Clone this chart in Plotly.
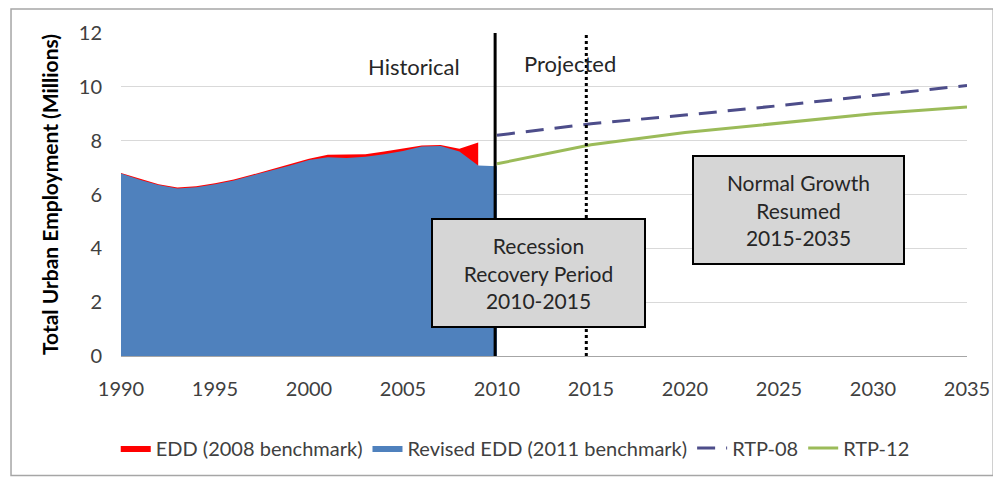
import plotly.graph_objects as go

# ---- data ----
hist_years = list(range(1990, 2011))
revised_edd = [6.78, 6.55, 6.35, 6.22, 6.27, 6.38, 6.52, 6.70, 6.90, 7.08, 7.28,
               7.38, 7.36, 7.40, 7.50, 7.62, 7.78, 7.80, 7.60, 7.08, 7.05]
edd_years = list(range(1990, 2010))
edd_2008 = [6.80, 6.58, 6.38, 6.26, 6.31, 6.42, 6.56, 6.74, 6.94, 7.12, 7.33,
            7.48, 7.48, 7.50, 7.60, 7.70, 7.82, 7.84, 7.70, 7.93]
proj_years = [2010, 2015, 2020, 2025, 2030, 2035]
rtp_08 = [8.20, 8.63, 8.95, 9.30, 9.68, 10.05]
rtp_12 = [7.14, 7.85, 8.30, 8.64, 9.00, 9.25]
x_ticks = [1990, 1995, 2000, 2005, 2010, 2015, 2020, 2025, 2030, 2035]
y_ticks = [0, 2, 4, 6, 8, 10, 12]

FONT = "Lato"
fig = go.Figure()
fig.add_trace(go.Scatter(x=edd_years, y=edd_2008, name="EDD (2008 benchmark)",
                         mode="lines", fill="tozeroy", line=dict(color="#ff0000", width=0),
                         fillcolor="#ff0000"))
fig.add_trace(go.Scatter(x=hist_years, y=revised_edd, name="Revised EDD (2011 benchmark)",
                         mode="lines", fill="tozeroy", line=dict(color="#4f81bd", width=0),
                         fillcolor="#4f81bd"))
fig.add_trace(go.Scatter(x=proj_years, y=rtp_08, name="RTP-08", mode="lines",
                         line=dict(color="#4d4d8a", width=3, dash="18px,11px")))
fig.add_trace(go.Scatter(x=proj_years, y=rtp_12, name="RTP-12", mode="lines",
                         line=dict(color="#9bbb59", width=3)))

# vertical separators
fig.add_shape(type="line", x0=2009.9, x1=2009.9, y0=0, y1=12.1, xref="x", yref="y",
              line=dict(color="black", width=3))
fig.add_shape(type="line", x0=2014.75, x1=2014.75, y0=0, y1=12, xref="x", yref="y",
              line=dict(color="black", width=3, dash="dot"))

# outer border
fig.add_shape(type="rect", xref="paper", yref="paper", x0=-0.130, x1=1.031, y0=-0.370, y1=1.074,
              line=dict(color="#a6a6a6", width=1.5), layer="above")

fig.add_annotation(x=2005.6, y=10.74, text="Historical", showarrow=False,
                   font=dict(family=FONT, size=22, color="#262626"))
fig.add_annotation(x=2013.9, y=10.85, text="Projected", showarrow=False,
                   font=dict(family=FONT, size=22, color="#262626"))
fig.add_annotation(x=2012.23, y=3.07, text="Recession<br>Recovery Period<br>2010-2015",
                   showarrow=False, width=209, height=104, bgcolor="#d6d6d6",
                   bordercolor="black", borderwidth=2, align="center", valign="middle",
                   font=dict(family=FONT, size=21, color="#262626"))
fig.add_annotation(x=2026.06, y=5.43, text="Normal Growth<br>Resumed<br>2015-2035",
                   showarrow=False, width=207, height=104, bgcolor="#d6d6d6",
                   bordercolor="black", borderwidth=2, align="center", valign="middle",
                   font=dict(family=FONT, size=21, color="#262626"))

fig.update_layout(
    width=993, height=471,
    margin=dict(l=113, r=34, t=25, b=123),
    paper_bgcolor="white", plot_bgcolor="white",
    font=dict(family=FONT, size=20, color="#404040"),
    showlegend=True,
    legend=dict(orientation="h", x=0.466, xanchor="center", y=-0.285, yanchor="middle",
                bgcolor="rgba(0,0,0,0)",
                font=dict(family=FONT, size=20, color="#404040"), traceorder="normal"),
    xaxis=dict(range=[1990, 2035], tickvals=x_ticks, showgrid=False, zeroline=False,
               showline=True, linecolor="#a6a6a6", linewidth=1, ticks="",
               tickfont=dict(size=20, color="#404040"), ticklabelstandoff=15),
    yaxis=dict(range=[0, 12], tickvals=y_ticks, showgrid=True, gridcolor="#d9d9d9",
               gridwidth=1, zeroline=False, ticks="",
               tickfont=dict(size=20, color="#404040"), ticklabelstandoff=18,
               title=dict(text="<b>Total Urban Employment (Millions)</b>",
                          font=dict(family=FONT, size=21, color="black"), standoff=14)),
)

fig.write_html("out.html")
